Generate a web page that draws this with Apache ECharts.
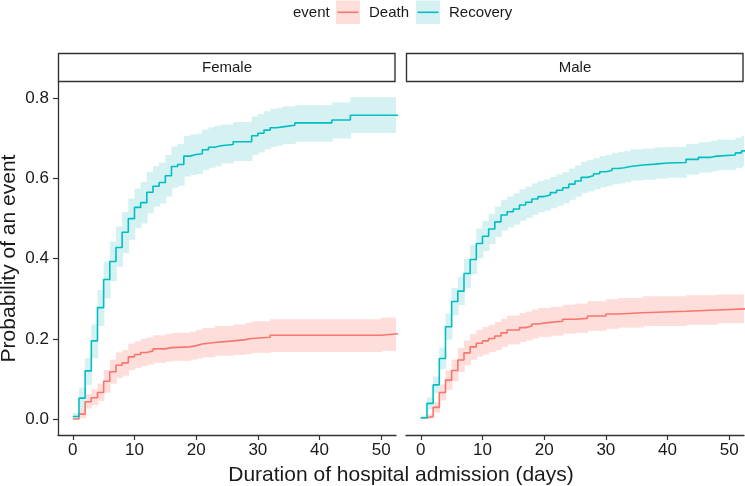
<!DOCTYPE html>
<html>
<head>
<meta charset="utf-8">
<script src="https://cdn.jsdelivr.net/npm/echarts@6/dist/echarts.min.js"></script>
<style>html,body{margin:0;padding:0;background:#fff}#c{width:745px;height:486px}</style>
</head>
<body>
<div id="c"></div>
<script>
// ---------- DATA ----------
const panels = ['Female', 'Male'];
const events = ['Death', 'Recovery'];
const xTicks = [0, 10, 20, 30, 40, 50];
const yTicks = [0, 0.2, 0.4, 0.6, 0.8];
const followUpEnd = 53;

// Female – Death
const fDeathT  = [0,1,2,3,4,5,6,7,8,9,10,11,12,13,15,16,19,20,21,23,26,28,29,32,50];
const fDeathV  = [0.000,0.012,0.043,0.053,0.066,0.094,0.118,0.134,0.140,0.155,0.161,0.166,0.170,0.175,0.178,0.180,0.183,0.187,0.191,0.195,0.198,0.201,0.204,0.209,0.213];
const fDeathLo = [0.000,0.002,0.026,0.034,0.045,0.066,0.088,0.102,0.108,0.122,0.127,0.132,0.136,0.140,0.143,0.145,0.148,0.151,0.154,0.158,0.160,0.162,0.165,0.167,0.170];
const fDeathHi = [0.006,0.026,0.062,0.074,0.088,0.122,0.148,0.166,0.172,0.188,0.194,0.200,0.204,0.209,0.212,0.215,0.218,0.222,0.227,0.232,0.236,0.240,0.244,0.249,0.253];

// Female – Recovery
const fRecT  = [0,1,2,3,4,5,6,7,8,9,10,11,12,13,14,15,16,17,18,19,20,21,22,23,24,26,29,30,31,32,33,34,36,42,45];
const fRecV  = [0.006,0.052,0.120,0.195,0.278,0.348,0.393,0.428,0.466,0.500,0.528,0.540,0.566,0.581,0.590,0.607,0.630,0.635,0.656,0.660,0.662,0.672,0.678,0.682,0.685,0.692,0.707,0.713,0.721,0.727,0.729,0.733,0.739,0.746,0.758];
const fRecLo = [0.000,0.025,0.085,0.152,0.232,0.301,0.344,0.380,0.414,0.447,0.476,0.488,0.513,0.530,0.538,0.555,0.577,0.582,0.605,0.609,0.611,0.621,0.627,0.631,0.638,0.644,0.659,0.665,0.673,0.679,0.682,0.686,0.692,0.700,0.714];
const fRecHi = [0.015,0.078,0.152,0.236,0.322,0.393,0.443,0.480,0.517,0.550,0.575,0.592,0.617,0.631,0.640,0.659,0.680,0.686,0.706,0.710,0.712,0.722,0.728,0.732,0.735,0.741,0.755,0.761,0.768,0.774,0.776,0.780,0.783,0.790,0.803];

// Male – Death
const mDeathT  = [0,1,2,3,4,5,6,7,8,9,10,11,12,13,14,16,17,18,19,21,23,25,27,30,32,36,43,48];
const mDeathV  = [0.003,0.006,0.029,0.066,0.097,0.121,0.147,0.165,0.180,0.189,0.195,0.201,0.207,0.215,0.222,0.228,0.232,0.237,0.241,0.244,0.249,0.251,0.257,0.262,0.265,0.269,0.272,0.275];
const mDeathLo = [0.000,0.001,0.016,0.046,0.073,0.094,0.117,0.134,0.148,0.156,0.161,0.167,0.172,0.180,0.186,0.192,0.196,0.201,0.205,0.208,0.213,0.215,0.220,0.225,0.228,0.232,0.235,0.239];
const mDeathHi = [0.008,0.013,0.042,0.086,0.121,0.148,0.177,0.196,0.212,0.222,0.229,0.235,0.242,0.250,0.258,0.264,0.268,0.273,0.277,0.280,0.285,0.288,0.294,0.299,0.302,0.306,0.309,0.311];

// Male – Recovery
const mRecT  = [0,1,2,3,4,5,6,7,8,9,10,11,12,13,14,15,16,17,18,19,20,21,22,23,24,25,26,27,28,29,30,31,32,33,34,36,38,40,43,45,47,48,51,52];
const mRecV  = [0.003,0.039,0.085,0.151,0.230,0.293,0.319,0.363,0.398,0.438,0.456,0.474,0.492,0.509,0.517,0.524,0.534,0.541,0.549,0.555,0.559,0.565,0.571,0.577,0.586,0.594,0.603,0.607,0.612,0.617,0.620,0.625,0.627,0.630,0.634,0.636,0.639,0.640,0.648,0.653,0.656,0.659,0.664,0.669];
const mRecLo = [0.000,0.024,0.064,0.124,0.198,0.259,0.284,0.327,0.361,0.401,0.419,0.436,0.454,0.470,0.478,0.485,0.495,0.502,0.510,0.516,0.520,0.526,0.532,0.538,0.547,0.555,0.564,0.568,0.573,0.578,0.581,0.586,0.588,0.591,0.595,0.597,0.600,0.602,0.610,0.615,0.618,0.621,0.626,0.631];
const mRecHi = [0.008,0.054,0.106,0.178,0.263,0.327,0.354,0.399,0.435,0.475,0.494,0.512,0.530,0.547,0.555,0.563,0.573,0.580,0.588,0.594,0.598,0.604,0.610,0.616,0.625,0.633,0.642,0.646,0.651,0.656,0.659,0.664,0.666,0.669,0.673,0.675,0.678,0.679,0.686,0.691,0.694,0.697,0.702,0.707];

// ---------- STYLE ----------
const FONT = '"Liberation Sans", Arial, Helvetica, sans-serif';
const COL = { Death: '#F8766D', Recovery: '#00BFC4' };
const BAND = { Death: '#FDDEDA', Recovery: '#D5F1F2' };
const INK = '#1a1a1a';

const curves = [
  { panel: 0, ev: 'Death', t: fDeathT, v: fDeathV, lo: fDeathLo, hi: fDeathHi },
  { panel: 0, ev: 'Recovery', t: fRecT, v: fRecV, lo: fRecLo, hi: fRecHi },
  { panel: 1, ev: 'Death', t: mDeathT, v: mDeathV, lo: mDeathLo, hi: mDeathHi },
  { panel: 1, ev: 'Recovery', t: mRecT, v: mRecV, lo: mRecLo, hi: mRecHi }
];

const chart = echarts.init(document.getElementById('c'), null, { renderer: 'canvas' });

const gridTop = 82, gridH = 353, gridW = 338;
const gridLefts = [58, 406];

const grids = gridLefts.map(l => ({ left: l, top: gridTop, width: gridW, height: gridH, containLabel: false }));

const xAxes = gridLefts.map((l, i) => ({
  type: 'value', gridIndex: i, min: -2.4, max: 52.4,
  splitLine: { show: false },
  axisLine: { show: true, onZero: false, lineStyle: { color: '#333', width: 1.3 } },
  axisTick: { show: true, length: 5, lineStyle: { color: '#333', width: 1.2 }, customValues: xTicks },
  axisLabel: { show: true, margin: 7, fontSize: 17, color: INK, fontFamily: FONT, customValues: xTicks }
}));

const yAxes = gridLefts.map((l, i) => ({
  type: 'value', gridIndex: i, min: -0.04, max: 0.841,
  splitLine: { show: false },
  axisLine: { show: i === 0, onZero: false, lineStyle: { color: '#333', width: 1.3 } },
  axisTick: { show: i === 0, length: 5, lineStyle: { color: '#333', width: 1.2 }, customValues: yTicks },
  axisLabel: { show: i === 0, margin: 9, fontSize: 17, color: INK, fontFamily: FONT,
    customValues: yTicks, formatter: v => v.toFixed(1) }
}));

const series = [];
curves.forEach(c => {
  const band = c.t.map((t, i) => [t, i + 1 < c.t.length ? c.t[i + 1] : followUpEnd, c.lo[i], c.hi[i]]);
  series.push({
    type: 'custom', xAxisIndex: c.panel, yAxisIndex: c.panel, z: 1,
    data: band, encode: { x: [0, 1], y: [2, 3] }, silent: true,
    renderItem: (params, api) => {
      const p0 = api.coord([api.value(0), api.value(3)]);
      const p1 = api.coord([api.value(1), api.value(2)]);
      const cs = params.coordSys;
      const shape = echarts.graphic.clipRectByRect(
        { x: p0[0], y: p0[1], width: p1[0] - p0[0] + 0.8, height: p1[1] - p0[1] },
        { x: cs.x, y: cs.y, width: cs.width, height: cs.height });
      return shape && { type: 'rect', shape: shape, style: { fill: BAND[c.ev] } };
    }
  });
});
curves.forEach(c => {
  const pts = c.t.map((t, i) => [t, c.v[i]]);
  pts.push([followUpEnd, c.v[c.v.length - 1]]);
  series.push({
    type: 'line', name: c.ev, xAxisIndex: c.panel, yAxisIndex: c.panel, z: 3,
    data: pts, step: 'end', showSymbol: false, symbol: 'none', clip: true,
    lineStyle: { color: COL[c.ev], width: 1.6 }, silent: true, animation: false
  });
});

// graphic: strips, legend, axis titles
const graphics = [];
panels.forEach((p, i) => {
  graphics.push({ type: 'rect', shape: { x: gridLefts[i] + 0.5, y: 53.5, width: gridW - 1.5, height: 28 },
    style: { fill: '#fff', stroke: '#333', lineWidth: 1.4 }, z: 10 });
  graphics.push({ type: 'text', x: gridLefts[i] + gridW / 2, y: 68, z: 11,
    style: { text: p, font: '15px ' + FONT, fill: INK, textAlign: 'center', textVerticalAlign: 'middle' } });
});
graphics.push({ type: 'text', x: 9, y: 258.5, rotation: Math.PI / 2, z: 11,
  style: { text: 'Probability of an event', font: '21px ' + FONT, fill: INK, textAlign: 'center', textVerticalAlign: 'middle' } });
graphics.push({ type: 'text', x: 401, y: 475, z: 11,
  style: { text: 'Duration of hospital admission (days)', font: '21px ' + FONT, fill: INK, textAlign: 'center', textVerticalAlign: 'middle' } });
// legend
graphics.push({ type: 'text', x: 293, y: 12.5, z: 11,
  style: { text: 'event', font: '15px ' + FONT, fill: INK, textAlign: 'left', textVerticalAlign: 'middle' } });
const legendPos = [{ ev: 'Death', kx: 336, tx: 369 }, { ev: 'Recovery', kx: 416, tx: 449 }];
legendPos.forEach(lp => {
  graphics.push({ type: 'rect', shape: { x: lp.kx, y: 0.5, width: 24, height: 23.5 }, style: { fill: BAND[lp.ev] }, z: 10 });
  graphics.push({ type: 'line', shape: { x1: lp.kx + 1.5, y1: 12.3, x2: lp.kx + 22.5, y2: 12.3 },
    style: { stroke: COL[lp.ev], lineWidth: 1.6 }, z: 11 });
  graphics.push({ type: 'text', x: lp.tx, y: 12.5, z: 11,
    style: { text: lp.ev, font: '15px ' + FONT, fill: INK, textAlign: 'left', textVerticalAlign: 'middle' } });
});

chart.setOption({
  animation: false,
  backgroundColor: '#ffffff',
  textStyle: { fontFamily: FONT },
  grid: grids, xAxis: xAxes, yAxis: yAxes,
  series: series,
  graphic: { elements: graphics }
});
</script>
</body>
</html>
